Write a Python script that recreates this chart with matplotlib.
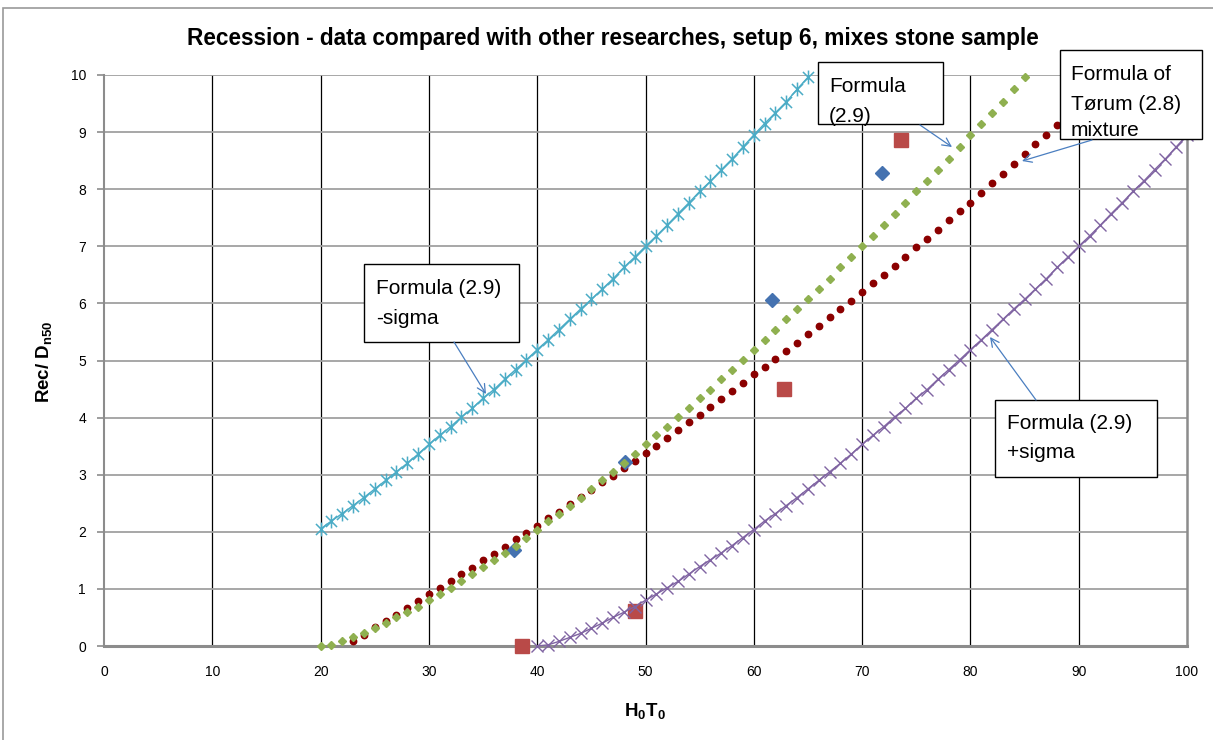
import matplotlib
matplotlib.use("Agg")
import matplotlib.pyplot as plt
from matplotlib.patches import Rectangle, FancyArrowPatch
from matplotlib.path import Path

# ---------------- data ----------------
green_x = list(range(20, 86))          # Formula (2.9)
green_y = [0.00, 0.02, 0.08, 0.15, 0.22, 0.31, 0.40, 0.50, 0.59, 0.69,
           0.80, 0.91, 1.02, 1.13, 1.26, 1.39, 1.51, 1.63, 1.76, 1.90,
           2.04, 2.19, 2.32, 2.46, 2.60, 2.75, 2.90, 3.05, 3.20, 3.36,
           3.53, 3.69, 3.84, 4.01, 4.16, 4.34, 4.49, 4.67, 4.84, 5.01,
           5.19, 5.36, 5.54, 5.72, 5.90, 6.07, 6.25, 6.43, 6.63, 6.81,
           7.00, 7.18, 7.37, 7.57, 7.76, 7.96, 8.14, 8.34, 8.53, 8.74,
           8.95, 9.15, 9.34, 9.53, 9.75, 9.96]

cyan_x = list(range(20, 66))           # Formula (2.9) -sigma
cyan_y = [2.05, 2.19, 2.32, 2.46, 2.60, 2.75, 2.90, 3.05, 3.20, 3.36,
          3.53, 3.69, 3.84, 4.01, 4.16, 4.34, 4.49, 4.67, 4.84, 5.01,
          5.19, 5.36, 5.54, 5.72, 5.90, 6.07, 6.25, 6.43, 6.63, 6.81,
          7.00, 7.18, 7.37, 7.57, 7.76, 7.96, 8.14, 8.34, 8.53, 8.74,
          8.95, 9.15, 9.34, 9.53, 9.75, 9.96]

purple_x = list(range(40, 101))        # Formula (2.9) +sigma
purple_y = [0.00, 0.02, 0.08, 0.15, 0.22, 0.31, 0.40, 0.50, 0.59, 0.69,
            0.80, 0.91, 1.02, 1.13, 1.26, 1.39, 1.51, 1.63, 1.76, 1.90,
            2.04, 2.19, 2.32, 2.46, 2.60, 2.75, 2.90, 3.05, 3.20, 3.36,
            3.53, 3.69, 3.84, 4.01, 4.16, 4.34, 4.49, 4.67, 4.84, 5.01,
            5.19, 5.36, 5.54, 5.72, 5.90, 6.07, 6.25, 6.43, 6.63, 6.81,
            7.00, 7.18, 7.37, 7.57, 7.76, 7.96, 8.14, 8.34, 8.53, 8.74,
            8.95]

torum_x = list(range(23, 93))          # Formula of Torum (2.8) mixture
torum_y = [0.08, 0.20, 0.33, 0.43, 0.55, 0.67, 0.78, 0.91, 1.02, 1.13,
           1.26, 1.37, 1.50, 1.61, 1.74, 1.87, 1.98, 2.11, 2.24, 2.35,
           2.48, 2.61, 2.74, 2.87, 2.98, 3.11, 3.24, 3.38, 3.50, 3.64,
           3.79, 3.92, 4.05, 4.19, 4.32, 4.47, 4.60, 4.76, 4.89, 5.03,
           5.17, 5.31, 5.46, 5.61, 5.76, 5.91, 6.04, 6.20, 6.35, 6.50,
           6.65, 6.82, 6.98, 7.13, 7.29, 7.46, 7.61, 7.76, 7.94, 8.11,
           8.27, 8.44, 8.62, 8.79, 8.95, 9.13, 9.30, 9.48, 9.66, 9.84]

blue_x = [37.9, 48.1, 61.7, 71.8]      # measured data, series 1
blue_y = [1.68, 3.22, 6.06, 8.28]
sq_x = [38.6, 49.0, 62.8, 73.6]        # measured data, series 2
sq_y = [0.00, 0.62, 4.50, 8.87]

x_ticks = list(range(0, 101, 10))
y_ticks = list(range(0, 11))

title = "Recession - data compared with other researches, setup 6, mixes stone sample"

# ---------------- styling ----------------
plt.rcParams['font.family'] = ['Liberation Sans', 'DejaVu Sans']
plt.rcParams['mathtext.fontset'] = 'custom'
plt.rcParams['mathtext.rm'] = 'Liberation Sans'
plt.rcParams['mathtext.bf'] = 'Liberation Sans:bold'

W, H = 1213, 740
fig = plt.figure(figsize=(W / 100, H / 100), dpi=100)

def fx(px):
    return px / W

def fy(py):
    return 1 - py / H

ax = fig.add_axes([fx(104), fy(646), fx(1187) - fx(104), fy(75) - fy(646)])
ax.set_xlim(0, 100)
ax.set_ylim(0, 10)

# grid
for xv in x_ticks[1:-1]:
    ax.axvline(xv, color='black', lw=0.9, zorder=1)
for yv in y_ticks[1:]:
    ax.axhline(yv, color='#A0A0A0', lw=1.3, zorder=1)

for side in ['left', 'right', 'bottom']:
    ax.spines[side].set_color('#8C8C8C')
ax.spines['left'].set_linewidth(1.5)
ax.spines['right'].set_linewidth(1.8)
ax.spines['bottom'].set_linewidth(2.2)
ax.spines['top'].set_visible(False)

ax.set_xticks(x_ticks)
ax.set_yticks(y_ticks)
ax.tick_params(axis='x', length=0, pad=14, labelsize=10)
ax.tick_params(axis='y', length=5, width=1.2, color='#8C8C8C', pad=8, labelsize=10)

# custom asterisk-like marker (x + vertical line)
star_path = Path([(-1, -1), (1, 1), (-1, 1), (1, -1), (0, -1.25), (0, 1.25)],
                 [Path.MOVETO, Path.LINETO, Path.MOVETO, Path.LINETO, Path.MOVETO, Path.LINETO])

c_cyan = '#4BACC6'
c_purple = '#8064A2'
c_green = '#8FB050'
c_red = '#8B0000'
c_blue = '#4572B0'
c_sq = '#B94A48'

ax.plot(torum_x, torum_y, ls='none', marker='o', ms=4.6, color=c_red, mec=c_red, zorder=3)
ax.plot(blue_x, blue_y, ls='none', marker='D', ms=7.5, color=c_blue, mec=c_blue, zorder=4)
ax.plot(sq_x, sq_y, ls='none', marker='s', ms=9.5, color=c_sq, mec=c_sq, zorder=4, clip_on=False)
ax.plot(purple_x, purple_y, color=c_purple, lw=1.0, marker='x', ms=8.5, mew=1.0, zorder=5, clip_on=False)
ax.plot(cyan_x, cyan_y, color=c_cyan, lw=1.0, marker=star_path, ms=10, mew=1.1, mfc='none', zorder=5, clip_on=False)
ax.plot(green_x, green_y, ls='none', marker='D', ms=4.2, color=c_green, mec=c_green, zorder=6, clip_on=False)

# title and axis labels
fig.text(fx(613), fy(38), title, ha='center', va='center', fontsize=16.3, fontweight='bold')
fig.text(fx(645), fy(712), r'H$_{\mathbf{0}}$T$_{\mathbf{0}}$', ha='center', va='center',
         fontsize=13.5, fontweight='bold')
fig.text(fx(45), fy(362), r'Rec/ D$_{\mathbf{n50}}$', ha='center', va='center',
         rotation=90, fontsize=13.5, fontweight='bold')

# outer chart border
fig.add_artist(Rectangle((fx(3), fy(760)), fx(1240) - fx(3), fy(8) - fy(760),
                         transform=fig.transFigure, fc='none', ec='#9A9A9A', lw=1.2))

# callout boxes
def callout(x0, y0, x1, y1, lines, tx, tys):
    fig.add_artist(Rectangle((fx(x0), fy(y1)), fx(x1) - fx(x0), fy(y0) - fy(y1),
                             transform=fig.transFigure, fc='white', ec='black', lw=1.0, zorder=10))
    for line, ty in zip(lines, tys):
        fig.text(fx(tx), fy(ty), line, ha='left', va='center_baseline', fontsize=15, zorder=11)

def arrow(xa, ya, xb, yb):
    fig.add_artist(FancyArrowPatch((fx(xa), fy(ya)), (fx(xb), fy(yb)), transform=fig.transFigure,
                                   arrowstyle='->,head_length=6,head_width=3', color='#4A7EC0',
                                   lw=0.9, zorder=12, shrinkA=0, shrinkB=0))

callout(364, 264, 519, 342, ["Formula (2.9)", "-sigma"], 376, [286, 316])
callout(818, 62, 943, 124, ["Formula", "(2.9)"], 829, [85, 114])
callout(1060, 50, 1202, 139, ["Formula of", "Tørum (2.8)", "mixture"], 1071, [73, 102, 129])
callout(995, 400, 1157, 477, ["Formula (2.9)", "+sigma"], 1007, [422, 451])

arrow(454, 342, 486, 394)
arrow(920, 125, 952, 147)
arrow(1092, 140, 1022, 161)
arrow(1036, 400, 990, 337)

fig.savefig('out.png', dpi=100)
